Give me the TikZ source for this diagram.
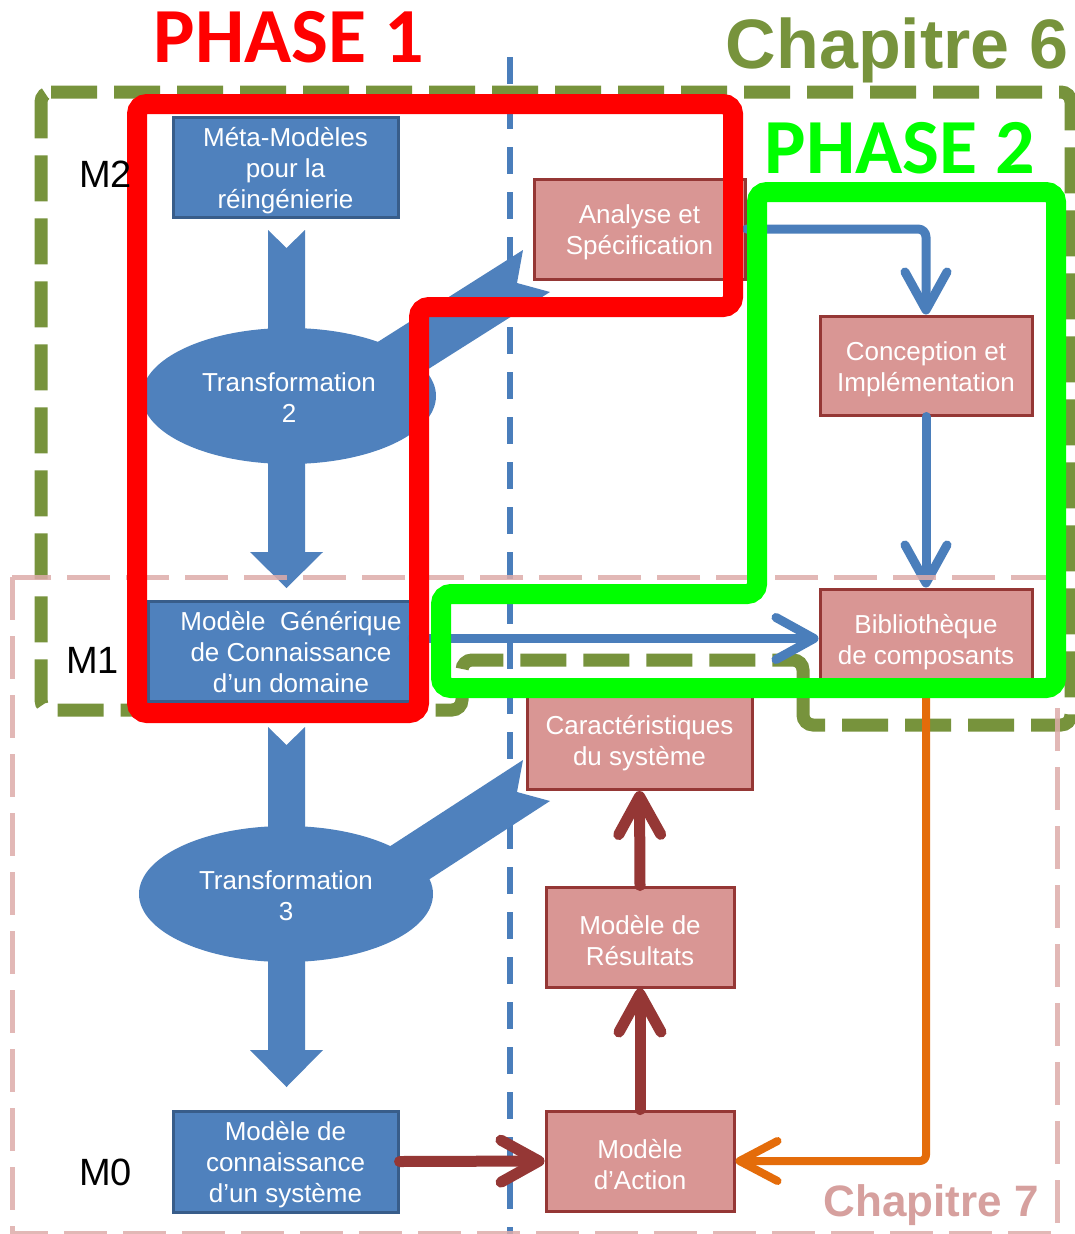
\documentclass[tikz,border=0pt]{standalone}
\usepackage{fontspec}
\setmainfont{Liberation Sans}
\newfontfamily\carlito{Carlito}
\usetikzlibrary{arrows.meta,shapes.geometric}
\definecolor{bfill}{RGB}{79,129,189}
\definecolor{bdraw}{RGB}{56,93,138}
\definecolor{pfill}{RGB}{217,150,148}
\definecolor{pdraw}{RGB}{149,55,53}
\definecolor{chsix}{RGB}{119,147,60}
\definecolor{chseven}{RGB}{214,160,158}
\definecolor{chsevenline}{RGB}{222,172,170}
\definecolor{lineblue}{RGB}{74,126,187}
\definecolor{orangec}{RGB}{228,108,10}
\definecolor{phgreen}{RGB}{0,255,0}
\definecolor{phred}{RGB}{255,0,0}
\tikzset{
  boxtext/.style={text=white, align=center, font=\fontsize{26}{31}\selectfont, inner sep=0pt},
  intext/.style={boxtext, yshift=-3.5pt},
  bbox/.style={draw=bdraw, fill=bfill, line width=3pt, inner sep=0pt},
  pbox/.style={draw=pdraw, fill=pfill, line width=3pt, inner sep=0pt},
  ell/.style={ellipse, fill=bfill, minimum width=294pt, minimum height=136pt, inner sep=0pt},
  blockarrow/.style={fill=bfill},
  connblue/.style={line width=9pt, draw=lineblue, line cap=round, line join=round,
     -{Straight Barb[round,length=38pt,width=42pt]}},
  connred/.style={line width=11pt, draw=pdraw, line cap=round, line join=round,
     -{Straight Barb[round,length=38pt,width=42pt]}},
  connorange/.style={line width=8pt, draw=orangec, line cap=round, line join=round,
     -{Straight Barb[round,length=38pt,width=40pt]}},
  mlabel/.style={anchor=base west, inner sep=0pt, font=\fontsize{38}{38}\selectfont},
}
\begin{document}
\begin{tikzpicture}[x=1pt,y=-1pt]
\useasboundingbox (0,0) rectangle (1074,1234);
\fill[white] (0,0) rectangle (1074,1234);

% olive dashed frame (Chapitre 6)
\draw[chsix, line width=13pt, dash pattern=on 46pt off 17pt, rounded corners=10pt]
  (41,92) -- (1071,92) -- (1071,725) -- (803,725) -- (803,660) -- (462,660) -- (462,710) -- (41,710) -- cycle;

% blue vertical dashed line
\draw[lineblue, line width=6pt, dash pattern=on 27pt off 18pt] (510,57) -- (510,1234);

% boxes
\node[bbox, minimum width=225pt, minimum height=100pt,
  label={[intext]center:{Méta-Modèles\\pour la\\réingénierie}}] (meta) at (285.5,167) {};
\node[bbox, minimum width=262pt, minimum height=100pt] (mg) at (279,651) {};
\node[boxtext] (mgtext) at (291,652) {Modèle~ Générique\\de Connaissance\\d’un domaine};
\node[bbox, minimum width=225pt, minimum height=101pt,
  label={[intext]center:{Modèle de\\connaissance\\d’un système}}] (conn) at (285.5,1161.5) {};

\node[pbox, minimum width=211pt, minimum height=100pt,
  label={[intext]center:{Analyse et\\Spécification}}] (ana) at (639.5,229) {};
\node[pbox, minimum width=212pt, minimum height=99pt,
  label={[intext]center:{Conception et\\Implémentation}}] (conc) at (926,365.5) {};
\node[pbox, minimum width=212pt, minimum height=99pt,
  label={[intext]center:{Bibliothèque\\de composants}}] (bib) at (926,638.5) {};
\node[pbox, minimum width=225pt, minimum height=100pt,
  label={[intext]center:{Caractéristiques\\du système}}] (car) at (639.5,739.5) {};
\node[pbox, minimum width=188pt, minimum height=100pt,
  label={[intext]center:{Modèle de\\Résultats}}] (res) at (640,937) {};
\node[pbox, minimum width=188pt, minimum height=100pt,
  label={[intext]center:{Modèle\\d’Action}}] (act) at (640,1161) {};

% big block arrows
\fill[blockarrow] (268,230) -- (286.5,248) -- (305,230) -- (305,552) -- (323,552) -- (286.5,588) -- (250,552) -- (268,552) -- cycle;
\fill[blockarrow] (268,727) -- (286.5,745) -- (305,727) -- (305,1050) -- (323,1050) -- (286.5,1087) -- (250,1050) -- (268,1050) -- cycle;
\fill[blockarrow] (354,357) -- (523,250) -- (517,283) -- (550,292) -- (381,399) -- cycle;
\fill[blockarrow] (355,869) -- (523,760) -- (517,792) -- (550,801) -- (382,910) -- cycle;

% ellipses
\node[ell, label={[boxtext,yshift=-2pt]center:{Transformation\\2}}] (t2) at (289,396) {};
\node[ell, label={[boxtext,yshift=-2pt]center:{Transformation\\3}}] (t3) at (286,894) {};

% connectors
\draw[connblue, rounded corners=8pt] (ana.east) -| (conc.north);
\draw[connblue] (conc.south) -- (bib.north);
\draw[connblue] (mg.east |- bib.west) -- (bib.west);
\draw[connred] (conn.east) -- (act.west);
\draw[connred] (act.north) -- (res.south);
\draw[connred] (res.north) -- (car.south);
\draw[connorange, rounded corners=6pt] (bib.south) |- (act.east);

% pink dashed frame (Chapitre 7)
\draw[chsevenline, line width=5pt, dash pattern=on 43pt off 16pt, opacity=0.85] (12,577) rectangle (1057,1233);

% PHASE 1 (red) and PHASE 2 (green)
\draw[phred, line width=20pt, rounded corners=10pt]
  (137,104) -- (733,104) -- (733,307) -- (419,307) -- (419,713) -- (137,713) -- cycle;
\draw[phgreen, line width=20pt, rounded corners=10pt]
  (757,192) -- (1056,192) -- (1056,688) -- (441,688) -- (441,594) -- (757,594) -- cycle;

% labels
\node[mlabel] (m2) at (79,187) {M2};
\node[mlabel] (m1) at (66,673) {M1};
\node[mlabel] (m0) at (79,1185) {M0};
\node[text=phred, inner sep=0pt, font=\carlito\bfseries\fontsize{78}{78}\selectfont] (ph1) at (289,37) {PHASE 1};
\node[text=phgreen, inner sep=0pt, font=\carlito\bfseries\fontsize{78}{78}\selectfont] (ph2) at (900,148) {PHASE 2};
\node[text=chsix, anchor=base, inner sep=0pt, font=\bfseries\fontsize{70}{70}\selectfont] (ch6) at (897,68) {Chapitre 6};
\node[text=chseven, anchor=base, inner sep=0pt, font=\bfseries\fontsize{44}{44}\selectfont] (ch7) at (931,1216) {Chapitre 7};
\end{tikzpicture}
\end{document}
